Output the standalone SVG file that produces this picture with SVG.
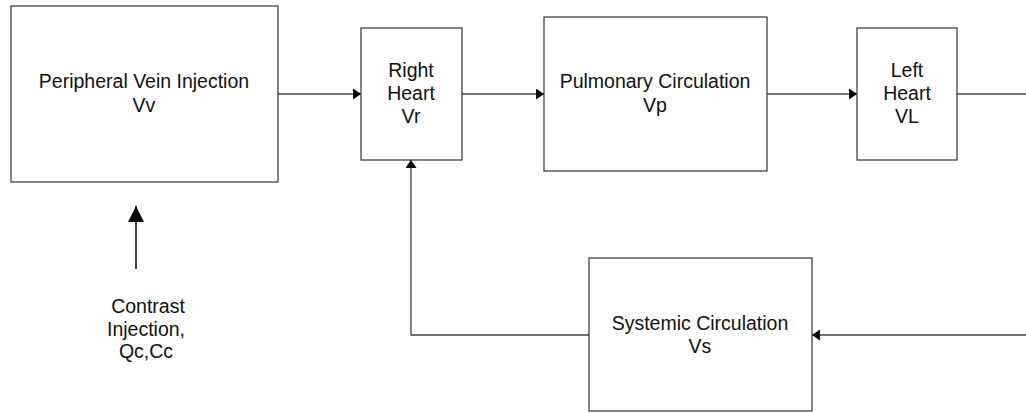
<svg xmlns="http://www.w3.org/2000/svg" width="1026" height="413" viewBox="0 0 1026 413">
  <style>
    .box { fill: #ffffff; stroke: #333333; stroke-width: 1.2; }
    .lbl { font-family: "Liberation Sans", Arial, sans-serif; font-size: 19.5px; fill: #111111; text-anchor: middle; }
    .wire { fill: none; stroke: #444444; stroke-width: 1.3; }
    .feed { fill: none; stroke: #111111; stroke-width: 1.6; }
  </style>
  <defs>
    <marker id="tip" markerWidth="8" markerHeight="11" refX="8" refY="5.5" orient="auto" markerUnits="userSpaceOnUse">
      <path d="M0,0 L8,5.5 L0,11 Z" fill="#000000"/>
    </marker>
    <marker id="bigtip" markerWidth="16" markerHeight="16" refX="16" refY="8" orient="auto" markerUnits="userSpaceOnUse">
      <path d="M0,0 L16,8 L0,16 Z" fill="#000000"/>
    </marker>
  </defs>
  <rect width="1026" height="413" fill="#ffffff"/>

  <g id="connectors">
    <line class="wire" x1="278" y1="94" x2="361" y2="94" marker-end="url(#tip)"/>
    <line class="wire" x1="462" y1="94" x2="544" y2="94" marker-end="url(#tip)"/>
    <line class="wire" x1="767" y1="94" x2="857" y2="94" marker-end="url(#tip)"/>
    <line class="wire" x1="957" y1="94" x2="1026" y2="94"/>
    <line class="wire" x1="1026" y1="335" x2="812" y2="335" marker-end="url(#tip)"/>
    <polyline class="wire" points="589,335 411,335 411,160" marker-end="url(#tip)"/>
    <line class="feed" x1="136" y1="269" x2="136" y2="206" marker-end="url(#bigtip)"/>
  </g>

  <g id="peripheral-vein">
    <rect class="box" x="11" y="6" width="267" height="176"/>
    <text class="lbl" x="144" y="88">Peripheral Vein Injection</text>
    <text class="lbl" x="144" y="112">Vv</text>
  </g>

  <g id="right-heart">
    <rect class="box" x="361" y="28" width="101" height="132"/>
    <text class="lbl" x="411" y="77">Right</text>
    <text class="lbl" x="411" y="100">Heart</text>
    <text class="lbl" x="411" y="123">Vr</text>
  </g>

  <g id="pulmonary">
    <rect class="box" x="544" y="17" width="223" height="154"/>
    <text class="lbl" x="655" y="88">Pulmonary Circulation</text>
    <text class="lbl" x="655" y="112">Vp</text>
  </g>

  <g id="left-heart">
    <rect class="box" x="857" y="28" width="100" height="132"/>
    <text class="lbl" x="907" y="77">Left</text>
    <text class="lbl" x="907" y="100">Heart</text>
    <text class="lbl" x="907" y="123">VL</text>
  </g>

  <g id="systemic">
    <rect class="box" x="589" y="258" width="223" height="153"/>
    <text class="lbl" x="700" y="330">Systemic Circulation</text>
    <text class="lbl" x="700" y="353">Vs</text>
  </g>

  <g id="contrast-injection">
    <text class="lbl" x="148" y="313">Contrast</text>
    <text class="lbl" x="146" y="336">Injection,</text>
    <text class="lbl" x="146" y="358">Qc,Cc</text>
  </g>
</svg>
